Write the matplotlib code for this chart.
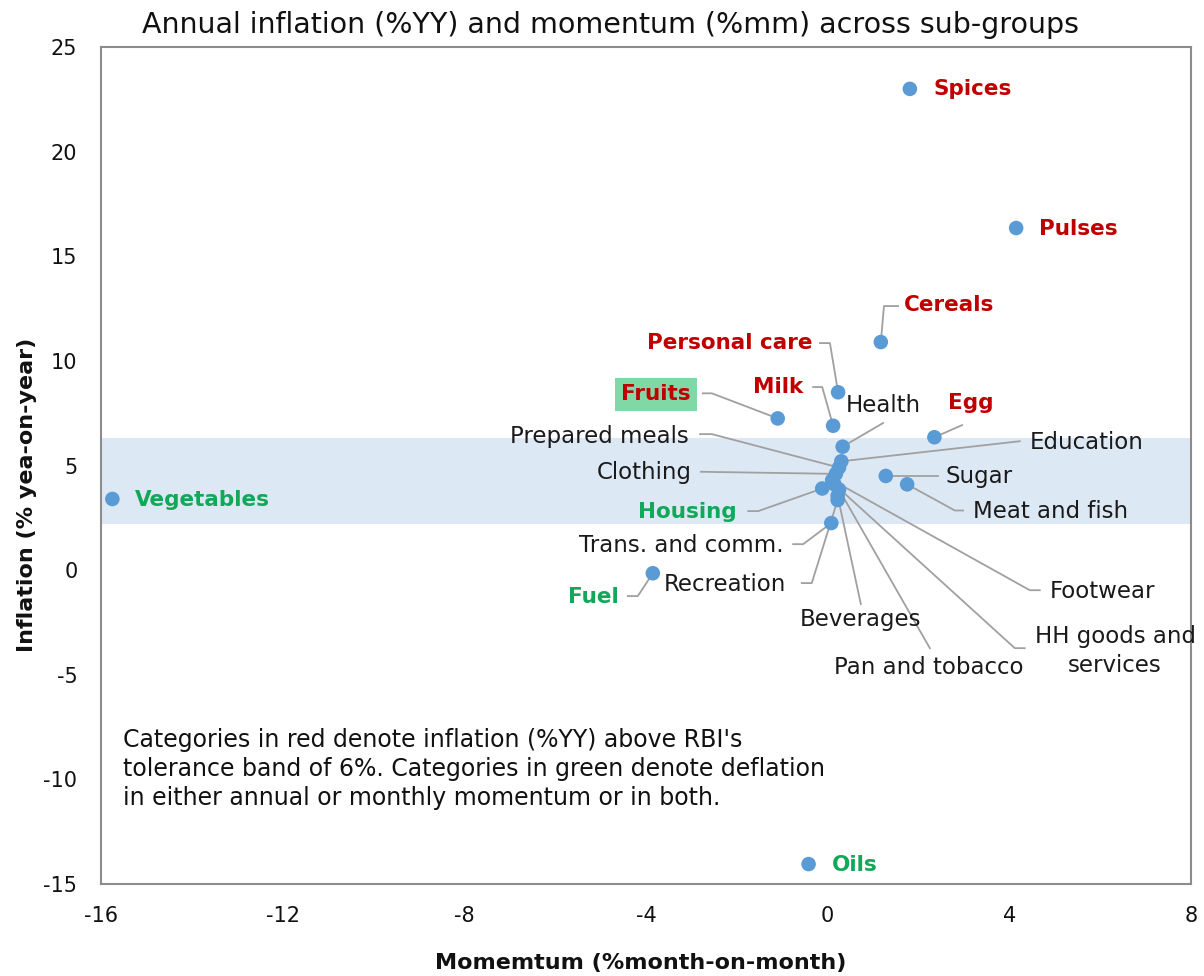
import matplotlib.pyplot as plt

plt.rcParams['axes.unicode_minus'] = False

# sub-group values: momentum (%mm) and annual inflation (%YY)
names = ['Spices', 'Pulses', 'Cereals', 'Personal care', 'Fruits', 'Milk', 'Egg',
         'Health', 'Education', 'Prepared meals', 'Clothing', 'Sugar', 'Meat and fish',
         'Footwear', 'HH goods and\nservices', 'Housing', 'Pan and tobacco', 'Beverages',
         'Recreation', 'Vegetables', 'Trans. and comm.', 'Fuel', 'Oils']
mom = [1.81, 4.15, 1.17, 0.23, -1.1, 0.12, 2.35,
       0.33, 0.3, 0.25, 0.18, 1.28, 1.75,
       0.1, 0.15, -0.12, 0.25, 0.22,
       0.22, -15.75, 0.08, -3.85, -0.42]
yoy = [23.0, 16.35, 10.9, 8.5, 7.25, 6.9, 6.35,
       5.9, 5.2, 4.9, 4.6, 4.5, 4.1,
       4.3, 4.1, 3.9, 3.85, 3.55,
       3.35, 3.4, 2.25, -0.15, -14.05]
kind = ['red', 'red', 'red', 'red', 'red', 'red', 'red',
        'k', 'k', 'k', 'k', 'k', 'k',
        'k', 'k', 'green', 'k', 'k',
        'k', 'green', 'k', 'green', 'green']

# label placement (layout only): text x, text y, ha, leader path (ends at marker)
label_pos = {
    'Spices': (2.32, 23.0, 'left', []),
    'Pulses': (4.65, 16.3, 'left', []),
    'Cereals': (1.68, 12.66, 'left', [(1.55, 12.62), (1.24, 12.62)]),
    'Personal care': (-0.345, 10.85, 'right', [(-0.17, 10.85), (0.05, 10.85)]),
    'Fruits': (-3.78, 8.41, 'center', [(-2.75, 8.45), (-2.55, 8.45)]),
    'Milk': (-0.54, 8.75, 'right', [(-0.32, 8.75), (-0.12, 8.75)]),
    'Health': (0.4, 7.89, 'left', [(1.22, 7.03)]),
    'Egg': (2.65, 7.98, 'left', [(2.96, 6.93)]),
    'Education': (4.45, 6.12, 'left', [(4.23, 6.16)]),
    'Prepared meals': (-3.05, 6.4, 'right', [(-2.81, 6.5), (-2.55, 6.5)]),
    'Clothing': (-2.99, 4.68, 'right', [(-2.79, 4.7)]),
    'Sugar': (2.6, 4.49, 'left', [(2.43, 4.5)]),
    'Meat and fish': (3.2, 2.82, 'left', [(2.98, 2.85), (2.8, 2.85)]),
    'Footwear': (4.9, -1.0, 'left', [(4.67, -0.96), (4.45, -0.96)]),
    'HH goods and\nservices': (6.33, -3.87, 'center', [(4.34, -3.73), (4.12, -3.73)]),
    'Housing': (-2.0, 2.77, 'right', [(-1.75, 2.82), (-1.53, 2.82)]),
    'Pan and tobacco': (2.23, -4.64, 'center', [(2.25, -3.73)]),
    'Beverages': (0.73, -2.34, 'center', [(0.73, -1.62)]),
    'Recreation': (-3.6, -0.67, 'left', [(-0.57, -0.62), (-0.35, -0.62)]),
    'Vegetables': (-15.25, 3.35, 'left', []),
    'Trans. and comm.': (-0.98, 1.19, 'right', [(-0.76, 1.24), (-0.54, 1.24)]),
    'Fuel': (-4.6, -1.29, 'right', [(-4.4, -1.24), (-4.18, -1.24)]),
    'Oils': (0.1, -14.1, 'left', []),
}

band_lo, band_hi = 2.2, 6.3

colors = {'red': '#C00000', 'green': '#12A85A', 'k': '#1a1a1a'}

fig = plt.figure(figsize=(12.04, 9.76), dpi=100)
ax = fig.add_axes([0.0839, 0.0943, 0.9053, 0.8575])

ax.axhspan(band_lo, band_hi, color='#DDE8F5', zorder=0, lw=0)

# leader lines
for n, x, y in zip(names, mom, yoy):
    tx, ty, ha, path = label_pos[n]
    if path:
        xs = [p[0] for p in path] + [x]
        ys = [p[1] for p in path] + [y]
        ax.plot(xs, ys, color='#A0A0A0', lw=1.3, zorder=1)

ax.scatter(mom, yoy, s=110, color='#5B9BD5', zorder=3, edgecolors='none')

for n, k in zip(names, kind):
    tx, ty, ha, path = label_pos[n]
    bold = k != 'k'
    kw = {}
    if n == 'Fruits':
        kw['bbox'] = dict(boxstyle='square,pad=0.3', fc='#80D8A6', ec='none')
    ax.text(tx, ty, n, ha=ha, va='center', fontsize=15.5 if bold else 16.5,
            fontweight='bold' if bold else 'normal', color=colors[k],
            linespacing=1.3, zorder=4, **kw)

ax.text(-15.52, -7.55,
        "Categories in red denote inflation (%YY) above RBI's\n"
        "tolerance band of 6%. Categories in green denote deflation\n"
        "in either annual or monthly momentum or in both.",
        ha='left', va='top', fontsize=17, linespacing=1.25, color='#111111')

ax.set_xlim(-16, 8)
ax.set_ylim(-15, 25)
ax.set_xticks([-16, -12, -8, -4, 0, 4, 8])
ax.set_yticks([25, 20, 15, 10, 5, 0, -5, -10, -15])
ax.tick_params(length=0, labelsize=15, colors='#111111')
ax.tick_params(axis='x', pad=16)
ax.tick_params(axis='y', pad=17)
for s in ax.spines.values():
    s.set_color('#8C8C8C')
    s.set_linewidth(1.5)

fig.text(0.532, 0.0133, 'Momemtum (%month-on-month)', ha='center', va='center',
         fontsize=16, fontweight='bold', color='#111111')
fig.text(0.0224, 0.493, 'Inflation (% yea-on-year)', ha='center', va='center',
         rotation=90, fontsize=16, fontweight='bold', color='#111111')
fig.text(0.507, 0.974, 'Annual inflation (%YY) and momentum (%mm) across sub-groups',
         ha='center', va='center', fontsize=20.5, color='#111111')

fig.savefig('out.png', dpi=100)
